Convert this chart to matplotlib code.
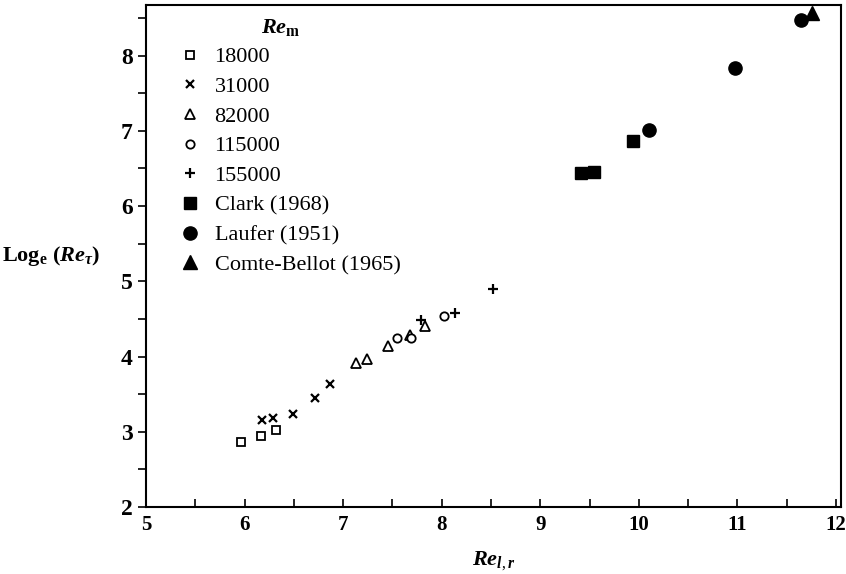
import matplotlib.pyplot as plt

plt.rcParams['font.family'] = ['Liberation Serif', 'DejaVu Serif']
plt.rcParams['mathtext.fontset'] = 'custom'
plt.rcParams['mathtext.rm'] = 'Liberation Serif'
plt.rcParams['mathtext.it'] = 'Liberation Serif:italic'
plt.rcParams['mathtext.bf'] = 'Liberation Serif:bold'
plt.rcParams['mathtext.bfit'] = 'Liberation Serif:bold:italic'

# data
x_18000 = [5.96, 6.17, 6.32]
y_18000 = [2.86, 2.95, 3.02]
x_31000 = [6.18, 6.29, 6.49, 6.71, 6.87]
y_31000 = [3.16, 3.18, 3.23, 3.45, 3.63]
x_82000 = [7.13, 7.24, 7.46, 7.68, 7.83]
y_82000 = [3.91, 3.97, 4.14, 4.29, 4.40]
x_115000 = [7.55, 7.69, 8.02]
y_115000 = [4.24, 4.24, 4.54]
x_155000 = [7.79, 8.13, 8.52]
y_155000 = [4.48, 4.58, 4.90]
x_clark = [9.41, 9.54, 9.94]
y_clark = [6.44, 6.45, 6.86]
x_laufer = [10.10, 10.98, 11.64]
y_laufer = [7.01, 7.84, 8.47]
x_comte = [11.76]
y_comte = [8.56]

fig = plt.figure(figsize=(8.46, 5.74), dpi=100)
ax = fig.add_axes([0.1726, 0.1167, 0.8214, 0.8743])

ax.plot(x_18000, y_18000, 's', mfc='white', mec='black', mew=1.3, ms=6, ls='none', label='18000')
ax.plot(x_31000, y_31000, 'x', color='black', mew=1.6, ms=6, ls='none', label='31000')
ax.plot(x_82000, y_82000, '^', mfc='white', mec='black', mew=1.3, ms=6.5, ls='none', label='82000')
ax.plot(x_115000, y_115000, 'o', mfc='white', mec='black', mew=1.3, ms=6, ls='none', label='115000')
ax.plot(x_155000, y_155000, '+', color='black', mew=1.6, ms=7, ls='none', label='155000')
ax.plot(x_clark, y_clark, 's', color='black', ms=8, ls='none', label='Clark (1968)')
ax.plot(x_laufer, y_laufer, 'o', color='black', ms=9.5, ls='none', label='Laufer (1951)')
ax.plot(x_comte, y_comte, '^', color='black', ms=9.5, ls='none', label='Comte-Bellot (1965)')

ax.set_xlim(5, 12.05)
ax.set_ylim(2, 8.67)
ax.set_xticks(range(5, 13))
ax.set_yticks(range(2, 9))
ax.set_xticks([5.5 + i for i in range(7)], minor=True)
ax.set_yticks([2.5 + i for i in range(7)], minor=True)
ax.tick_params(axis='x', which='both', direction='in', length=6, width=1.2, labelsize=15, pad=6)
ax.tick_params(axis='y', which='both', direction='out', length=6, width=1.2, labelsize=17)
for lab in ax.get_xticklabels() + ax.get_yticklabels():
    lab.set_fontweight('bold')
for s in ax.spines.values():
    s.set_linewidth(1.5)

ax.set_xlabel(r'$\mathbfit{Re}_{\mathbfit{l},\mathbfit{r}}$', fontsize=16, va='center')
ax.xaxis.set_label_coords(0.5, -0.106)
ax.set_ylabel(r'$\mathbf{Log}_\mathbf{e}\ \mathbf{(}\mathbfit{Re}_{\mathbfit{\tau}}\mathbf{)}$',
              fontsize=16, rotation=0, ha='right', va='center')
ax.yaxis.set_label_coords(-0.066, 0.5)

leg = ax.legend(loc='upper left', bbox_to_anchor=(0.0475, 0.917), frameon=False,
                fontsize=16, handletextpad=0.6, labelspacing=0.41, handlelength=1.0,
                borderaxespad=0, borderpad=0)
ax.text(0.165, 0.955, r'$\mathbfit{Re}_\mathbf{m}$', transform=ax.transAxes,
        fontsize=16, ha='left', va='center')

fig.savefig('out.png', dpi=100)
